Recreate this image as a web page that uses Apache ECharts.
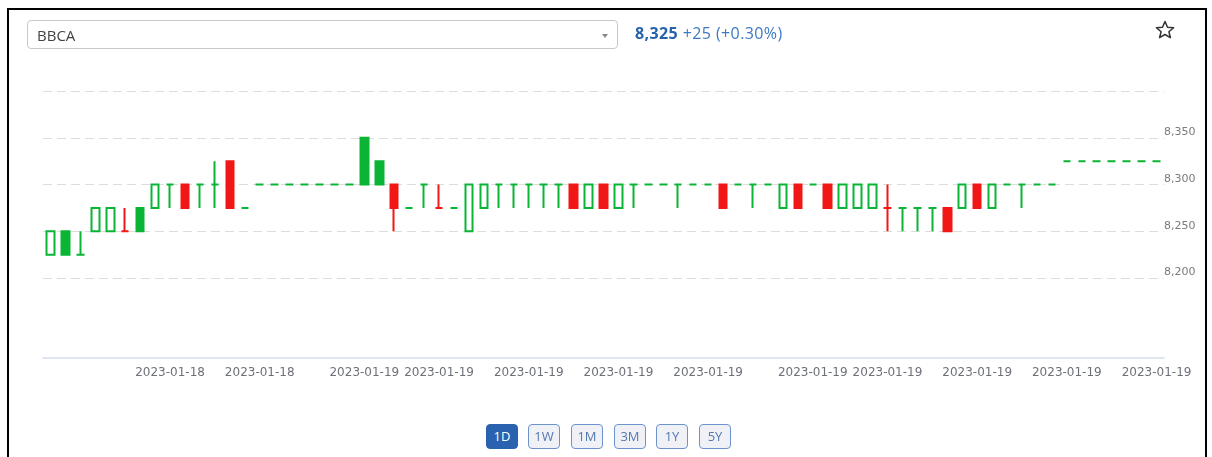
<!DOCTYPE html>
<html>
<head>
<meta charset="utf-8">
<script src="https://cdn.jsdelivr.net/npm/echarts@6/dist/echarts.min.js"></script>
<style>
  html, body { margin: 0; padding: 0; background: #fff; }
  #wrap { position: relative; width: 1212px; height: 457px; overflow: hidden; font-family: "Open Sans", sans-serif; }
  #frame { position: absolute; left: 7px; top: 8px; width: 1200px; height: 470px; border: 2px solid #000; box-sizing: border-box; }
  #chart { position: absolute; left: 0; top: 0; width: 1212px; height: 457px; }
  #select { position: absolute; left: 27px; top: 20px; width: 591px; height: 29px; border: 1px solid #c8c8c8; border-radius: 4px; box-sizing: border-box; }
  #select .txt { position: absolute; left: 9px; top: 4px; font-size: 15px; color: #444; }
  #select .arr { position: absolute; right: 9px; top: 13px; width: 0; height: 0; border-left: 3px solid transparent; border-right: 3px solid transparent; border-top: 4px solid #888; }
  #price { position: absolute; left: 635px; top: 22px; font-size: 16px; letter-spacing: 0.4px; color: #3d79c4; white-space: nowrap; }
  #price b { color: #2563ad; font-weight: 700; }
  #star { position: absolute; left: 1155px; top: 20px; }
  .btn { position: absolute; top: 424px; height: 25px; width: 32px; box-sizing: border-box; border: 1px solid #6d93cc; border-radius: 4px; background: #eff1f6; color: #5478b0; font-size: 13px; text-align: center; line-height: 23px; }
  .btn.on { background: #2a62b0; border-color: #2a62b0; color: #fff; }
</style>
</head>
<body>
<div id="wrap">
  <div id="chart"></div>
  <div id="frame"></div>
  <div id="select"><span class="txt">BBCA</span><span class="arr"></span></div>
  <div id="price"><b>8,325</b> +25 (+0.30%)</div>
  <svg id="star" width="20" height="20" viewBox="0 0 20 20"><path d="M10 1.5 L12.5 7.2 L18.6 7.7 L13.9 11.7 L15.4 17.7 L10 14.5 L4.6 17.7 L6.1 11.7 L1.4 7.7 L7.5 7.2 Z" fill="none" stroke="#333" stroke-width="1.5" stroke-linejoin="round"/></svg>
  <div class="btn on" style="left:486px">1D</div>
  <div class="btn" style="left:528px">1W</div>
  <div class="btn" style="left:571px">1M</div>
  <div class="btn" style="left:614px">3M</div>
  <div class="btn" style="left:656px">1Y</div>
  <div class="btn" style="left:699px">5Y</div>
</div>
<script>
// ---- data ----
const dates = [
  '2023-01-18','2023-01-18','2023-01-18','2023-01-18','2023-01-18','2023-01-18','2023-01-18','2023-01-18','2023-01-18','2023-01-18',
  '2023-01-18','2023-01-18','2023-01-18','2023-01-18','2023-01-18','2023-01-18','2023-01-18','2023-01-18','2023-01-18','2023-01-18',
  '2023-01-18','2023-01-19','2023-01-19','2023-01-19','2023-01-19','2023-01-19','2023-01-19','2023-01-19','2023-01-19','2023-01-19',
  '2023-01-19','2023-01-19','2023-01-19','2023-01-19','2023-01-19','2023-01-19','2023-01-19','2023-01-19','2023-01-19','2023-01-19',
  '2023-01-19','2023-01-19','2023-01-19','2023-01-19','2023-01-19','2023-01-19','2023-01-19','2023-01-19','2023-01-19','2023-01-19',
  '2023-01-19','2023-01-19','2023-01-19','2023-01-19','2023-01-19','2023-01-19','2023-01-19','2023-01-19','2023-01-19','2023-01-19',
  '2023-01-19','2023-01-19','2023-01-19','2023-01-19','2023-01-19','2023-01-19','2023-01-19','2023-01-19','2023-01-19','2023-01-19',
  '2023-01-19','2023-01-19','2023-01-19','2023-01-19','2023-01-19'
];
const opens = [
  8225,8225,8225,8250,8250,8250,8250,8275,8300,8300,
  8300,8300,8325,8275,8300,8300,8300,8300,8300,8300,
  8300,8300,8300,8300,8275,8300,8275,8275,8250,8275,
  8300,8300,8300,8300,8300,8300,8275,8300,8275,8300,
  8300,8300,8300,8300,8300,8300,8300,8300,8300,8275,
  8300,8300,8300,8275,8275,8275,8275,8275,8275,8275,
  8275,8275,8300,8275,8300,8300,8300,8300,8325,8325,
  8325,8325,8325,8325,8325
];
const closes = [
  8250,8250,8225,8275,8275,8250,8275,8300,8300,8275,
  8300,8300,8275,8275,8300,8300,8300,8300,8300,8300,
  8300,8350,8325,8275,8275,8300,8275,8275,8300,8300,
  8300,8300,8300,8300,8300,8275,8300,8275,8300,8300,
  8300,8300,8300,8300,8300,8275,8300,8300,8300,8300,
  8275,8300,8275,8300,8300,8300,8275,8275,8275,8275,
  8250,8300,8275,8300,8300,8300,8300,8300,8325,8325,
  8325,8325,8325,8325,8325
];
const lows = [
  8225,8225,8225,8250,8250,8250,8250,8275,8275,8275,
  8275,8275,8275,8275,8300,8300,8300,8300,8300,8300,
  8300,8300,8300,8250,8275,8275,8275,8275,8250,8275,
  8275,8275,8275,8275,8275,8275,8275,8275,8275,8275,
  8300,8300,8275,8300,8300,8275,8300,8275,8300,8275,
  8275,8300,8275,8275,8275,8275,8250,8250,8250,8250,
  8250,8275,8275,8275,8300,8275,8300,8300,8325,8325,
  8325,8325,8325,8325,8325
];
const highs = [
  8250,8250,8250,8275,8275,8275,8275,8300,8300,8300,
  8300,8325,8325,8275,8300,8300,8300,8300,8300,8300,
  8300,8350,8325,8300,8275,8300,8300,8275,8300,8300,
  8300,8300,8300,8300,8300,8300,8300,8300,8300,8300,
  8300,8300,8300,8300,8300,8300,8300,8300,8300,8300,
  8300,8300,8300,8300,8300,8300,8300,8275,8275,8275,
  8275,8300,8300,8300,8300,8300,8300,8300,8325,8325,
  8325,8325,8325,8325,8325
];
// candle kind: UH = rising hollow, UF = rising filled, DF = falling filled
const kinds = [
  'UH','UF','UH','UH','UH','DF','UF','UH','UH','DF',
  'UH','UH','DF','UH','UH','UH','UH','UH','UH','UH',
  'UH','UF','UF','DF','UH','UH','DF','UH','UH','UH',
  'UH','UH','UH','UH','UH','DF','UH','DF','UH','UH',
  'UH','UH','UH','UH','UH','DF','UH','UH','UH','UH',
  'DF','UH','DF','UH','UH','UH','DF','UH','UH','UH',
  'DF','UH','DF','UH','UH','UH','UH','UH','UH','UH',
  'UH','UH','UH','UH','UH'
];
const yTicks = { min: 8200, max: 8400, step: 50 };
const labelIndex = [8, 14, 21, 26, 32, 38, 44, 51, 56, 62, 68, 74];

// ---- chart ----
const GREEN = '#0ab536', RED = '#f21717';
const seriesData = opens.map((o, i) => {
  const k = kinds[i];
  const line = k === 'DF' ? RED : GREEN;
  const fill = k === 'UH' ? '#ffffff' : line;
  return {
    value: [o, closes[i], lows[i], highs[i]],
    itemStyle: {
      color: fill, color0: fill,
      borderColor: line, borderColor0: line, borderColorDoji: line,
      borderWidth: 2
    }
  };
});
const showIdx = (i) => labelIndex.indexOf(i) >= 0;
const chart = echarts.init(document.getElementById('chart'), null, { renderer: 'canvas' });
chart.setOption({
  animation: false,
  backgroundColor: 'transparent',
  grid: { left: 43, right: 48, top: 91, height: 187, containLabel: false },
  xAxis: {
    type: 'category',
    data: dates,
    boundaryGap: true,
    offset: 80,
    axisLine: { lineStyle: { color: '#e0e6f1', width: 2 } },
    axisTick: { alignWithLabel: true, interval: showIdx, length: 6, lineStyle: { color: '#e0e6f1', width: 2 } },
    axisLabel: { interval: showIdx, color: '#6e7079', fontSize: 12, fontFamily: 'DejaVu Sans', margin: 9 },
    splitLine: { show: false }
  },
  yAxis: {
    type: 'value',
    position: 'right',
    min: yTicks.min, max: yTicks.max, interval: yTicks.step,
    axisLine: { show: false },
    axisTick: { show: false },
    axisLabel: {
      showMaxLabel: false,
      margin: 0,
      color: '#7a7a7a', fontSize: 11, fontFamily: 'DejaVu Sans',
      verticalAlign: 'bottom',
      formatter: (v) => v.toLocaleString('en-US')
    },
    splitLine: { show: true, lineStyle: { color: '#dcdcdc', width: 1, type: [9, 5] } }
  },
  series: [{
    type: 'candlestick',
    data: seriesData,
    barWidth: 8
  }]
});
</script>
</body>
</html>
